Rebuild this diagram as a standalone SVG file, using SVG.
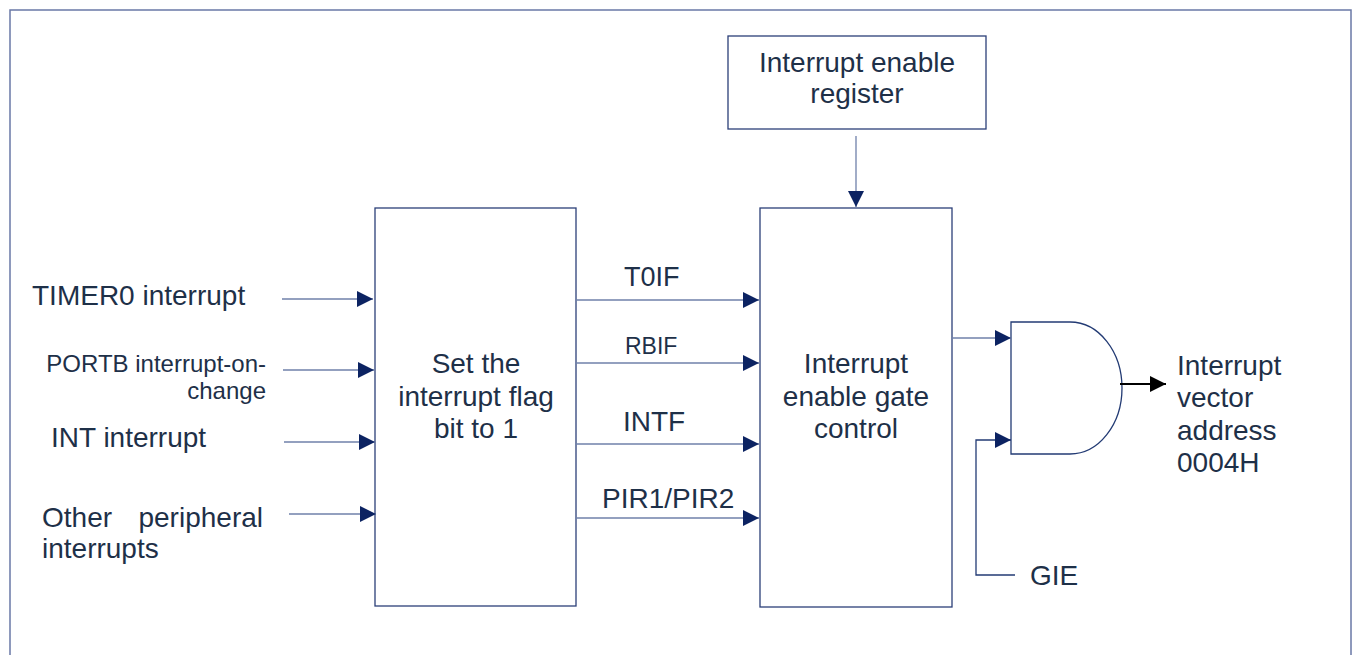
<svg xmlns="http://www.w3.org/2000/svg" width="1354" height="655" viewBox="0 0 1354 655">
  <style>
    .frame { fill: none; stroke: #6a78a6; stroke-width: 1.5; }
    .box { fill: #ffffff; stroke: #2c3f78; stroke-width: 1.3; }
    .wire { fill: none; stroke: #6f80aa; stroke-width: 1.3; }
    .gie { fill: none; stroke: #233b74; stroke-width: 1.3; }
    .out { fill: none; stroke: #000000; stroke-width: 2; }
    text { font-family: "Liberation Sans", Arial, sans-serif; fill: #1e3048; font-size: 28px; }
    .mid { text-anchor: middle; }
    .small { font-size: 23px; }
    .port { font-size: 24px; }
    .sig { font-size: 27px; }
  </style>
  <defs>
    <marker id="arr" viewBox="0 0 16 16" refX="16" refY="8" markerWidth="16" markerHeight="16" markerUnits="userSpaceOnUse" orient="auto">
      <path d="M0,0 L16,8 L0,16 Z" fill="#0c2362"/>
    </marker>
    <marker id="arrBlack" viewBox="0 0 16 16" refX="16" refY="8" markerWidth="16" markerHeight="16" markerUnits="userSpaceOnUse" orient="auto">
      <path d="M0,0 L16,8 L0,16 Z" fill="#000000"/>
    </marker>
  </defs>

  <!-- outer frame -->
  <rect class="frame" x="10" y="10" width="1341" height="660"/>

  <!-- input labels -->
  <g id="inputs">
    <text x="32" y="305">TIMER0 interrupt</text>
    <text class="port" x="266" y="372" text-anchor="end">PORTB interrupt-on-</text>
    <text class="port" x="266" y="399" text-anchor="end">change</text>
    <text x="51" y="447">INT interrupt</text>
    <text x="42" y="527">Other</text>
    <text x="263" y="527" text-anchor="end">peripheral</text>
    <text x="42" y="558">interrupts</text>
  </g>

  <!-- flag-setting block -->
  <g id="flag-block">
    <rect class="box" x="375" y="208" width="201" height="398"/>
    <text class="mid" x="476" y="373">Set the</text>
    <text class="mid" x="476" y="406">interrupt flag</text>
    <text class="mid" x="476" y="438">bit to 1</text>
  </g>

  <!-- enable register -->
  <g id="enable-register">
    <rect class="box" x="728" y="36" width="258" height="93"/>
    <text class="mid" x="857" y="72">Interrupt enable</text>
    <text class="mid" x="857" y="103">register</text>
  </g>

  <!-- enable gate control -->
  <g id="gate-control">
    <rect class="box" x="760" y="208" width="192" height="399"/>
    <text class="mid" x="856" y="373">Interrupt</text>
    <text class="mid" x="856" y="406">enable gate</text>
    <text class="mid" x="856" y="438">control</text>
  </g>

  <!-- AND gate -->
  <g id="and-gate">
    <path class="gie" d="M1011,322 H1070 A52,66 0 0 1 1070,454 H1011 Z" fill="#ffffff"/>
  </g>

  <!-- flag labels -->
  <g id="flag-labels">
    <text class="sig" x="624" y="286">T0IF</text>
    <text class="small" x="625" y="354">RBIF</text>
    <text x="623" y="431">INTF</text>
    <text x="602" y="508">PIR1/PIR2</text>
  </g>

  <!-- output / enable labels -->
  <g id="vector-label">
    <text x="1177" y="375">Interrupt</text>
    <text x="1177" y="407">vector</text>
    <text x="1177" y="440">address</text>
    <text x="1177" y="472">0004H</text>
  </g>
  <g id="gie-label">
    <text x="1030" y="585">GIE</text>
  </g>

  <!-- connectors -->
  <g id="connectors">
    <line class="wire" x1="282" y1="299" x2="373" y2="299" marker-end="url(#arr)"/>
    <line class="wire" x1="283" y1="370" x2="374" y2="370" marker-end="url(#arr)"/>
    <line class="wire" x1="284" y1="442" x2="375" y2="442" marker-end="url(#arr)"/>
    <line class="wire" x1="289" y1="514" x2="376" y2="514" marker-end="url(#arr)"/>

    <line class="wire" x1="576" y1="300" x2="759" y2="300" marker-end="url(#arr)"/>
    <line class="wire" x1="576" y1="363" x2="759" y2="363" marker-end="url(#arr)"/>
    <line class="wire" x1="576" y1="444" x2="759" y2="444" marker-end="url(#arr)"/>
    <line class="wire" x1="576" y1="518" x2="759" y2="518" marker-end="url(#arr)"/>

    <line class="wire" x1="856" y1="136" x2="856" y2="207" marker-end="url(#arr)"/>

    <line class="wire" x1="952" y1="338" x2="1011" y2="338" marker-end="url(#arr)"/>
    <polyline class="gie" points="1015,575 976,575 976,440 1011,440" marker-end="url(#arr)"/>

    <line class="out" x1="1120" y1="384" x2="1166" y2="384" marker-end="url(#arrBlack)"/>
  </g>
</svg>
